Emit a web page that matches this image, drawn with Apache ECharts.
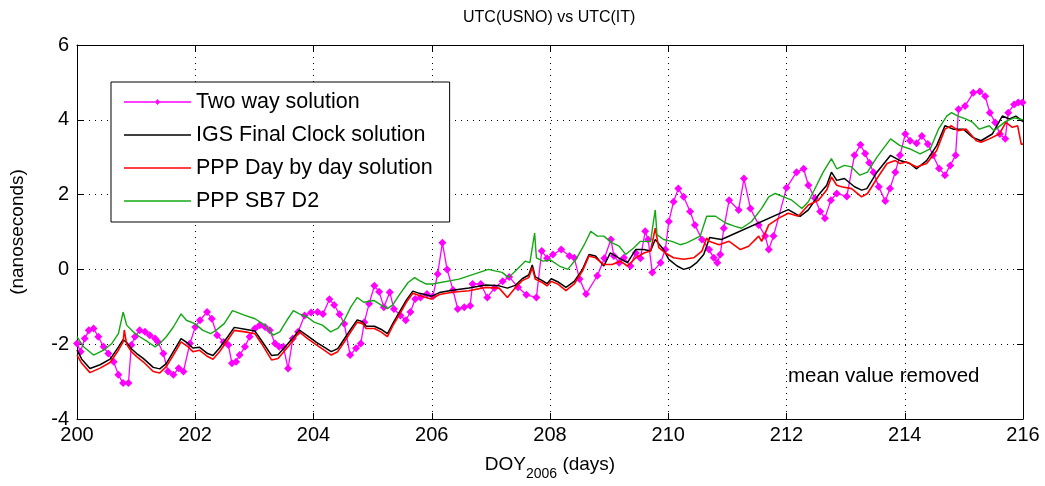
<!DOCTYPE html>
<html><head><meta charset="utf-8">
<script src="https://cdn.jsdelivr.net/npm/echarts@6/dist/echarts.min.js"></script>
<style>html,body{margin:0;padding:0;background:#fff}#c{width:1045px;height:486px}</style>
</head><body><div id="c"></div>
<script>
const titleText = 'UTC(USNO) vs UTC(IT)';
const seriesNames = ['Two way solution', 'IGS Final Clock solution', 'PPP Day by day solution', 'PPP SB7 D2'];
const seriesColors = ['#ff00ff', '#000000', '#ff0000', '#13a813'];
const xRange = [200, 216, 2];
const yRange = [-4, 6, 2];

const twDays = [200.00,200.06,200.13,200.20,200.28,200.36,200.45,200.53,200.62,200.70,200.78,200.87,200.92,200.98,201.06,201.15,201.23,201.32,201.37,201.46,201.54,201.63,201.72,201.80,201.91,202.00,202.08,202.20,202.28,202.37,202.48,202.56,202.62,202.69,202.75,202.84,202.92,203.01,203.09,203.18,203.26,203.35,203.42,203.49,203.57,203.65,203.74,203.85,203.96,204.07,204.16,204.27,204.35,204.44,204.52,204.62,204.72,204.80,204.86,204.94,205.03,205.11,205.19,205.29,205.36,205.47,205.56,205.64,205.72,205.81,205.92,206.02,206.10,206.18,206.26,206.36,206.44,206.55,206.65,206.69,206.83,206.94,207.06,207.20,207.31,207.46,207.60,207.77,207.86,207.95,208.05,208.19,208.33,208.41,208.50,208.61,208.80,208.92,209.03,209.08,209.17,209.25,209.36,209.45,209.53,209.61,209.66,209.73,209.87,209.95,210.01,210.09,210.17,210.26,210.37,210.45,210.57,210.69,210.77,210.83,210.88,210.94,211.03,211.19,211.28,211.39,211.53,211.64,211.70,211.78,212.00,212.17,212.29,212.37,212.48,212.57,212.65,212.75,212.85,213.02,213.15,213.25,213.33,213.40,213.47,213.56,213.67,213.75,213.84,213.92,214.01,214.09,214.20,214.29,214.39,214.48,214.58,214.68,214.77,214.86,214.91,215.02,215.16,215.27,215.36,215.44,215.53,215.61,215.70,215.75,215.85,215.92,215.99];
const twVals = [-1.98,-2.20,-1.85,-1.63,-1.58,-1.80,-2.07,-2.25,-2.47,-2.82,-3.04,-3.04,-2.02,-1.80,-1.63,-1.67,-1.76,-1.85,-1.94,-2.25,-2.73,-2.82,-2.64,-2.73,-1.98,-1.54,-1.36,-1.14,-1.32,-1.76,-1.94,-2.02,-2.51,-2.47,-2.29,-2.07,-1.80,-1.58,-1.49,-1.54,-1.63,-1.98,-2.07,-2.07,-2.65,-1.85,-1.67,-1.23,-1.15,-1.14,-1.19,-0.80,-0.95,-1.20,-1.45,-2.29,-2.11,-1.98,-1.41,-0.92,-0.44,-0.60,-1.01,-0.61,-1.06,-1.23,-1.36,-1.14,-0.79,-0.75,-0.66,-0.72,-0.12,0.71,0.00,-0.55,-1.06,-1.01,-0.97,-0.39,-0.39,-0.75,-0.50,-0.32,-0.20,-0.48,-0.68,-0.75,0.49,0.30,0.40,0.53,0.36,0.31,-0.26,-0.66,-0.17,0.30,0.80,0.36,0.18,0.31,0.09,0.44,0.30,1.02,0.80,-0.08,0.18,0.53,1.28,1.81,2.16,1.94,1.55,1.19,0.80,0.53,0.31,0.18,0.40,1.10,1.85,1.59,2.43,1.63,1.19,0.89,0.53,0.89,2.18,2.60,2.69,2.25,1.90,1.55,1.37,1.85,2.03,1.95,3.05,3.33,3.10,2.85,2.60,2.21,1.83,2.16,2.60,3.05,3.62,3.44,3.37,3.57,3.35,3.05,2.70,2.52,2.78,3.05,4.28,4.37,4.72,4.76,4.63,4.19,3.93,3.62,3.49,4.19,4.41,4.46,4.46];

const igsDays = [200.00,200.08,200.22,200.39,200.56,200.70,200.78,200.84,200.92,201.01,201.12,201.29,201.40,201.51,201.63,201.76,201.88,201.96,202.07,202.21,202.30,202.41,202.55,202.66,202.84,203.01,203.12,203.29,203.40,203.57,203.68,203.76,203.90,204.05,204.18,204.30,204.41,204.52,204.63,204.74,204.83,204.89,205.03,205.14,205.25,205.35,205.46,205.57,205.68,205.79,205.90,205.99,206.13,206.35,206.63,206.91,207.14,207.28,207.42,207.53,207.64,207.70,207.75,207.87,207.95,208.02,208.13,208.27,208.41,208.55,208.66,208.77,208.91,209.02,209.16,209.31,209.45,209.59,209.70,209.78,209.92,210.01,210.15,210.26,210.37,210.48,210.60,210.70,210.90,212.03,212.23,212.37,212.54,212.68,212.76,212.85,212.98,213.15,213.27,213.36,213.53,213.76,213.92,214.09,214.20,214.37,214.54,214.68,214.82,214.99,215.15,215.29,215.48,215.65,215.77,215.88,216.00];
const igsVals = [-2.15,-2.40,-2.65,-2.55,-2.40,-2.08,-1.88,-1.95,-2.12,-2.25,-2.38,-2.62,-2.66,-2.52,-2.20,-1.85,-1.98,-2.10,-2.08,-2.25,-2.30,-2.10,-1.80,-1.55,-1.60,-1.65,-1.90,-2.30,-2.28,-1.98,-1.78,-1.62,-1.78,-1.95,-2.08,-2.20,-2.12,-1.86,-1.60,-1.35,-1.40,-1.52,-1.52,-1.60,-1.72,-1.42,-1.12,-0.82,-0.58,-0.64,-0.68,-0.72,-0.62,-0.56,-0.50,-0.42,-0.44,-0.50,-0.42,-0.25,-0.15,0.12,-0.20,-0.30,-0.38,-0.25,-0.33,-0.48,-0.32,0.00,0.40,0.36,0.09,0.44,0.31,0.18,0.53,0.53,0.49,0.80,0.53,0.27,0.09,0.00,0.05,0.18,0.40,0.85,0.80,1.60,1.42,1.59,1.99,2.25,2.60,2.38,2.43,2.21,2.12,2.16,2.60,3.05,2.91,2.83,2.69,2.91,3.31,3.84,3.75,3.75,3.53,3.44,3.62,4.10,4.02,4.10,3.95];

const pppDays = [200.00,200.08,200.22,200.39,200.56,200.70,200.78,200.80,200.84,200.92,201.01,201.12,201.29,201.40,201.51,201.63,201.76,201.88,201.96,202.07,202.21,202.30,202.41,202.55,202.66,202.84,203.01,203.12,203.29,203.40,203.57,203.68,203.76,203.90,204.05,204.18,204.30,204.41,204.52,204.63,204.74,204.83,204.89,205.03,205.14,205.25,205.35,205.46,205.57,205.68,205.79,205.90,205.99,206.13,206.35,206.63,206.91,207.14,207.28,207.42,207.53,207.64,207.70,207.75,207.87,207.95,208.02,208.13,208.27,208.41,208.55,208.66,208.77,208.91,209.05,209.19,209.31,209.45,209.59,209.70,209.78,209.84,209.95,210.09,210.26,210.43,210.57,210.65,210.69,210.86,211.03,211.22,211.36,211.53,211.58,211.70,211.87,212.03,212.20,212.37,212.54,212.68,212.76,212.85,212.93,213.10,213.27,213.37,213.53,213.70,213.84,213.92,214.03,214.20,214.37,214.54,214.68,214.79,214.90,215.04,215.21,215.29,215.43,215.60,215.71,215.82,215.91,215.97,216.00];
const pppVals = [-2.29,-2.51,-2.76,-2.64,-2.49,-2.16,-1.94,-1.62,-2.00,-2.20,-2.33,-2.47,-2.73,-2.77,-2.60,-2.29,-1.94,-2.07,-2.20,-2.16,-2.33,-2.40,-2.20,-1.89,-1.63,-1.67,-1.72,-1.98,-2.42,-2.38,-2.07,-1.85,-1.67,-1.85,-2.02,-2.16,-2.29,-2.20,-1.94,-1.67,-1.41,-1.45,-1.58,-1.58,-1.67,-1.80,-1.48,-1.19,-0.88,-0.64,-0.70,-0.75,-0.79,-0.67,-0.61,-0.57,-0.48,-0.50,-0.75,-0.48,-0.30,-0.22,0.05,-0.26,-0.35,-0.44,-0.32,-0.39,-0.57,-0.39,-0.04,0.36,0.31,0.13,0.13,0.22,0.09,0.31,0.44,0.49,1.10,0.58,0.44,0.31,0.27,0.31,0.49,0.84,0.75,0.66,0.75,0.53,0.62,0.89,0.75,1.19,1.37,1.50,1.42,1.72,1.85,2.12,2.47,2.25,2.21,2.16,1.94,2.03,2.43,2.83,2.91,2.83,2.87,2.74,2.83,3.18,3.75,3.84,3.71,3.75,3.44,3.40,3.49,3.62,3.93,3.80,3.84,3.35,3.35];

const sbDays = [200.00,200.11,200.28,200.45,200.59,200.70,200.78,200.84,200.95,201.06,201.20,201.32,201.40,201.51,201.63,201.76,201.85,201.99,202.13,202.26,202.35,202.49,202.63,202.84,203.01,203.18,203.32,203.43,203.55,203.66,203.76,203.90,204.01,204.15,204.29,204.41,204.52,204.63,204.74,204.85,205.02,205.16,205.25,205.34,205.46,205.60,205.71,205.79,205.90,206.01,206.46,206.96,207.07,207.19,207.30,207.44,207.58,207.66,207.74,207.77,207.88,208.01,208.16,208.30,208.44,208.58,208.69,208.80,208.91,209.05,209.17,209.28,209.42,209.53,209.70,209.78,209.81,209.92,210.06,210.20,210.31,210.43,210.54,210.65,210.80,210.97,211.13,211.24,211.41,211.58,211.70,211.81,211.95,212.09,212.26,212.37,212.51,212.62,212.76,212.85,212.98,213.10,213.24,213.37,213.53,213.76,213.92,214.09,214.26,214.43,214.57,214.71,214.79,214.90,215.04,215.15,215.26,215.43,215.51,215.70,215.85,216.00];
const sbVals = [-1.80,-2.07,-2.29,-2.16,-1.98,-1.72,-1.14,-1.49,-1.67,-1.80,-1.94,-2.07,-1.98,-1.80,-1.54,-1.19,-1.36,-1.45,-1.63,-1.72,-1.63,-1.45,-1.10,-1.23,-1.32,-1.49,-1.76,-1.67,-1.36,-1.10,-1.19,-1.28,-1.41,-1.49,-1.67,-1.58,-1.36,-1.01,-0.75,-0.88,-0.83,-0.97,-1.05,-0.95,-0.66,-0.35,-0.22,-0.30,-0.39,-0.39,-0.26,0.00,-0.04,-0.08,-0.22,0.00,0.22,0.18,0.97,0.31,0.22,0.25,0.09,0.00,0.27,0.66,1.02,0.89,0.89,0.71,0.62,0.40,0.58,0.75,0.75,1.59,0.93,0.80,0.75,0.66,0.71,0.80,0.89,1.42,1.42,1.24,1.15,1.10,1.28,1.63,1.94,2.03,1.94,1.85,1.63,1.81,2.25,2.60,2.96,2.69,2.78,2.74,2.52,2.60,3.00,3.49,3.31,3.22,3.09,3.22,3.75,4.10,4.19,4.10,4.02,3.93,3.75,3.84,3.71,3.95,4.05,4.00];

function zip(a, b) { return a.map((d, i) => [d, b[i]]); }

const FONT = 'Liberation Sans';
const dotted = { color: '#000', width: 1, type: [1, 5] };
const lineIcon = 'path://M0,9.3L67,9.3L67,10.7L0,10.7Z';
const markIcon = 'path://M0,9.3L67,9.3L67,10.7L0,10.7ZM33.5,7L36,10L33.5,13L31,10Z';
const chart = echarts.init(document.getElementById('c'), null, { renderer: 'canvas' });

function axisCommon(extra) {
  return Object.assign({
    type: 'value',
    axisLine: { show: true, onZero: false, lineStyle: { color: '#000', width: 1 } },
    axisTick: { show: true, inside: true, length: 6, lineStyle: { color: '#000' } },
    splitLine: { show: false }
  }, extra);
}

chart.setOption({
  animation: false,
  backgroundColor: '#fff',
  textStyle: { fontFamily: FONT },
  color: seriesColors,
  grid: { left: 71, top: 45, right: 22, bottom: 63, containLabel: false },
  xAxis: [
    axisCommon({
      min: xRange[0], max: xRange[1], interval: xRange[2], position: 'bottom',
      axisLabel: { color: '#000', fontSize: 20, fontFamily: FONT, margin: 6 },
      splitLine: { show: true, lineStyle: dotted },
      name: '{m|DOY}{s|2006}{m| (days)}', nameLocation: 'middle', nameGap: 36,
      nameTextStyle: {
        rich: {
          m: { fontSize: 19, fontFamily: FONT, color: '#000', lineHeight: 22, verticalAlign: 'top' },
          s: { fontSize: 14, fontFamily: FONT, color: '#000', lineHeight: 26, verticalAlign: 'bottom' }
        }
      }
    }),
    axisCommon({ min: xRange[0], max: xRange[1], interval: xRange[2], position: 'top', axisLabel: { show: false } })
  ],
  yAxis: [
    axisCommon({
      min: yRange[0], max: yRange[1], interval: yRange[2], position: 'left',
      axisLabel: { color: '#000', fontSize: 20, fontFamily: FONT, margin: 8 },
      splitLine: { show: true, lineStyle: dotted },
      name: '(nanoseconds)', nameLocation: 'middle', nameGap: 50, nameRotate: 90,
      nameTextStyle: { fontSize: 19, fontFamily: FONT, color: '#000' }
    }),
    axisCommon({ min: yRange[0], max: yRange[1], interval: yRange[2], position: 'right', axisLabel: { show: false } })
  ],
  legend: {
    left: 111, top: 82, orient: 'vertical',
    padding: [9, 17, 10, 13],
    itemWidth: 67, itemHeight: 20, itemGap: 11,
    backgroundColor: '#fff', borderColor: '#000', borderWidth: 1, borderRadius: 0,
    textStyle: { fontSize: 21.5, fontFamily: FONT, color: '#000', lineHeight: 20 },
    data: seriesNames.map((n, i) => ({
      name: n, icon: i === 0 ? markIcon : lineIcon,
      itemStyle: { color: seriesColors[i], borderWidth: 0 }
    }))
  },
  graphic: [
    { type: 'text', left: 463, top: 10, style: { text: titleText, fontSize: 16, fontFamily: FONT, fill: '#000' } },
    { type: 'text', left: 788, top: 366, style: { text: 'mean value removed', fontSize: 20.5, fontFamily: FONT, fill: '#000' } }
  ],
  series: [
    { name: seriesNames[0], type: 'line', data: zip(twDays, twVals), symbol: 'diamond', symbolSize: 8, showSymbol: true,
      lineStyle: { color: seriesColors[0], width: 1.3 }, itemStyle: { color: seriesColors[0] }, z: 2 },
    { name: seriesNames[1], type: 'line', data: zip(igsDays, igsVals), symbol: 'none',
      lineStyle: { color: seriesColors[1], width: 1.5 }, itemStyle: { color: seriesColors[1] }, z: 3 },
    { name: seriesNames[2], type: 'line', data: zip(pppDays, pppVals), symbol: 'none',
      lineStyle: { color: seriesColors[2], width: 1.6 }, itemStyle: { color: seriesColors[2] }, z: 4 },
    { name: seriesNames[3], type: 'line', data: zip(sbDays, sbVals), symbol: 'none',
      lineStyle: { color: seriesColors[3], width: 1.4 }, itemStyle: { color: seriesColors[3] }, z: 5 }
  ]
});
</script></body></html>
